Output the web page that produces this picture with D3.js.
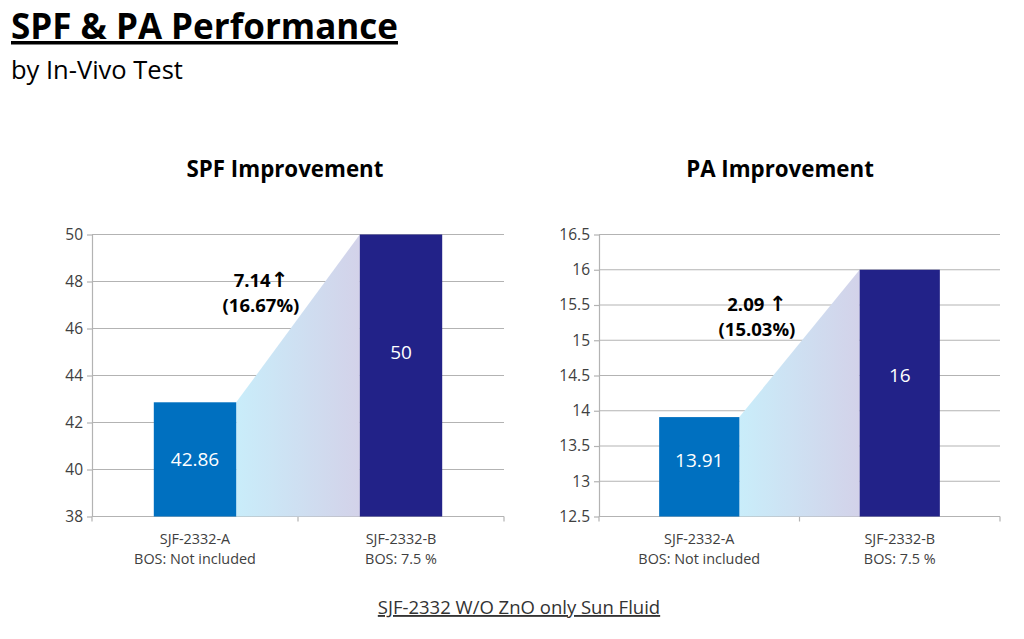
<!DOCTYPE html>
<html>
<head>
<meta charset="utf-8">
<script src="https://cdn.jsdelivr.net/npm/d3@7/dist/d3.min.js"></script>
<style>
  body { margin: 0; background: #fff; }
  svg { font-family: "Open Sans", sans-serif; }
</style>
</head>
<body>
<div id="canvas"></div>
<script>
const w = 1024;
const h = 639;

// data
const categoryNames = ["SJF-2332-A", "SJF-2332-B"];
const categoryNotes = ["BOS: Not included", "BOS: 7.5 %"];
const spfValues = [42.86, 50];
const paValues = [13.91, 16];
const spfTicks = [38, 40, 42, 44, 46, 48, 50];
const paTicks = [12.5, 13, 13.5, 14, 14.5, 15, 15.5, 16, 16.5];
const spfLabels = ["42.86", "50"];
const paLabels = ["13.91", "16"];
// where the value labels sit, in axis units
const spfLabelAt = [40.43, 45];
const paLabelAt = [13.3, 14.5];
const spfGain = ["7.14", "(16.67%)"];
const paGain = ["2.09 ", "(15.03%)"];
const barColors = ["#0070c0", "#222288"];

const svg = d3.select("#canvas")
              .append("svg")
              .attr("width", w)
              .attr("height", h);

// titles
svg.append("text")
   .attr("x", 11).attr("y", 39)
   .attr("font-size", 35).attr("font-weight", "bold")
   .attr("fill", "#000")
   .attr("text-decoration", "underline")
   .text("SPF & PA Performance");
svg.append("text")
   .attr("x", 11).attr("y", 79)
   .attr("font-size", 25.5).attr("fill", "#000")
   .text("by In-Vivo Test");

svg.append("text")
   .attr("x", 519).attr("y", 614)
   .attr("text-anchor", "middle")
   .attr("font-size", 18.5).attr("fill", "#333")
   .attr("text-decoration", "underline")
   .text("SJF-2332 W/O ZnO only Sun Fluid");

const defs = svg.append("defs");

function drawPanel(params){
  const g = svg.append("g").attr("transform", "translate(" + params.left + ",0)");
  const x = d3.scaleBand()
              .domain(categoryNames)
              .range([0, params.width])
              .paddingInner(0.6)
              .paddingOuter(0.3);
  const y = d3.scaleLinear()
              .domain(d3.extent(params.ticks))
              .range([516.5, 234.5]);
  const base = y.range()[0];

  // chart title
  g.append("text")
   .attr("x", params.titleX).attr("y", 177)
   .attr("text-anchor", "middle")
   .attr("font-size", 22.3).attr("font-weight", "bold").attr("fill", "#000")
   .text(params.title);

  // gridlines
  g.selectAll(".grid")
   .data(params.ticks)
   .enter().append("line")
   .attr("x1", 0).attr("x2", params.width)
   .attr("y1", d => y(d)).attr("y2", d => y(d))
   .attr("stroke", "#b3b3b3").attr("stroke-width", 1.2);

  // y axis
  const yAxis = d3.axisLeft(y).tickValues(params.ticks).tickSize(5).tickSizeOuter(0)
                  .tickFormat(d3.format("~g"));
  const ya = g.append("g").call(yAxis);
  ya.select(".domain").attr("stroke", "#b3b3b3").attr("stroke-width", 1.2);
  ya.selectAll(".tick line").attr("stroke", "#b3b3b3").attr("stroke-width", 1.2);
  ya.selectAll(".tick text").attr("font-size", 15.5).attr("fill", "#404040")
    .attr("font-family", "'Open Sans', sans-serif").attr("x", -9);

  // x axis ticks
  const step = params.width / categoryNames.length;
  g.selectAll(".xtick")
   .data([0, 1, 2])
   .enter().append("line")
   .attr("x1", d => d * step).attr("x2", d => d * step)
   .attr("y1", base).attr("y2", base + 5)
   .attr("stroke", "#b3b3b3").attr("stroke-width", 1.2);

  const cx = d => x(d) + x.bandwidth() / 2;
  categoryNames.forEach((c, i) => {
    g.append("text")
     .attr("x", cx(c)).attr("y", 544)
     .attr("text-anchor", "middle").attr("font-size", 14.4).attr("fill", "#404040")
     .text(c);
    g.append("text")
     .attr("x", cx(c)).attr("y", 564)
     .attr("text-anchor", "middle").attr("font-size", 14.4).attr("fill", "#404040")
     .text(categoryNotes[i]);
  });

  // gradient connector
  const xa0 = x(categoryNames[0]) + x.bandwidth();
  const xb0 = x(categoryNames[1]);
  const gid = "grad" + params.id;
  const grad = defs.append("linearGradient").attr("id", gid)
                   .attr("gradientUnits", "userSpaceOnUse")
                   .attr("x1", xa0).attr("x2", xb0)
                   .attr("y1", 0).attr("y2", 0);
  grad.append("stop").attr("offset", "0%").attr("stop-color", "#c9edfa");
  grad.append("stop").attr("offset", "100%").attr("stop-color", "#d3d2e9");

  g.append("path")
   .attr("d", d3.line()([[xa0, y(params.values[0])], [xb0, y(params.values[1])], [xb0, base], [xa0, base]]) + "Z")
   .attr("fill", "url(#" + gid + ")");

  // bars
  g.selectAll(".bar")
   .data(params.values)
   .enter().append("rect")
   .attr("x", (d, i) => x(categoryNames[i]))
   .attr("width", x.bandwidth())
   .attr("y", d => y(d))
   .attr("height", d => base - y(d))
   .attr("fill", (d, i) => barColors[i]);

  // value labels
  g.selectAll(".val")
   .data(params.labelAt)
   .enter().append("text")
   .attr("x", (d, i) => cx(categoryNames[i]))
   .attr("y", d => y(d))
   .attr("dy", "0.35em")
   .attr("text-anchor", "middle")
   .attr("font-size", 19).attr("fill", "#fff")
   .text((d, i) => params.labels[i]);

  // gain annotation, arrow drawn with a font that has a full-size glyph
  const first = g.append("text")
     .attr("x", params.gainX).attr("y", params.gainY)
     .attr("text-anchor", "middle")
     .attr("font-size", 18.5).attr("font-weight", "bold").attr("fill", "#000");
  first.append("tspan").text(params.gain[0]);
  first.append("tspan").attr("font-family", "'DejaVu Sans', sans-serif")
       .attr("font-weight", "bold").attr("font-size", 21).text("\u2191");
  g.append("text")
   .attr("x", params.gainX).attr("y", params.gainY + 25)
   .attr("text-anchor", "middle")
   .attr("font-size", 18.5).attr("font-weight", "bold").attr("fill", "#000")
   .text(params.gain[1]);
}

drawPanel({ id: 0, left: 92, width: 412, ticks: spfTicks, values: spfValues, labels: spfLabels,
            labelAt: spfLabelAt, title: "SPF Improvement", titleX: 193,
            gain: spfGain, gainX: 169, gainY: 287 });
drawPanel({ id: 1, left: 599, width: 401, ticks: paTicks, values: paValues, labels: paLabels,
            labelAt: paLabelAt, title: "PA Improvement", titleX: 181,
            gain: paGain, gainX: 158, gainY: 311 });
</script>
</body>
</html>
